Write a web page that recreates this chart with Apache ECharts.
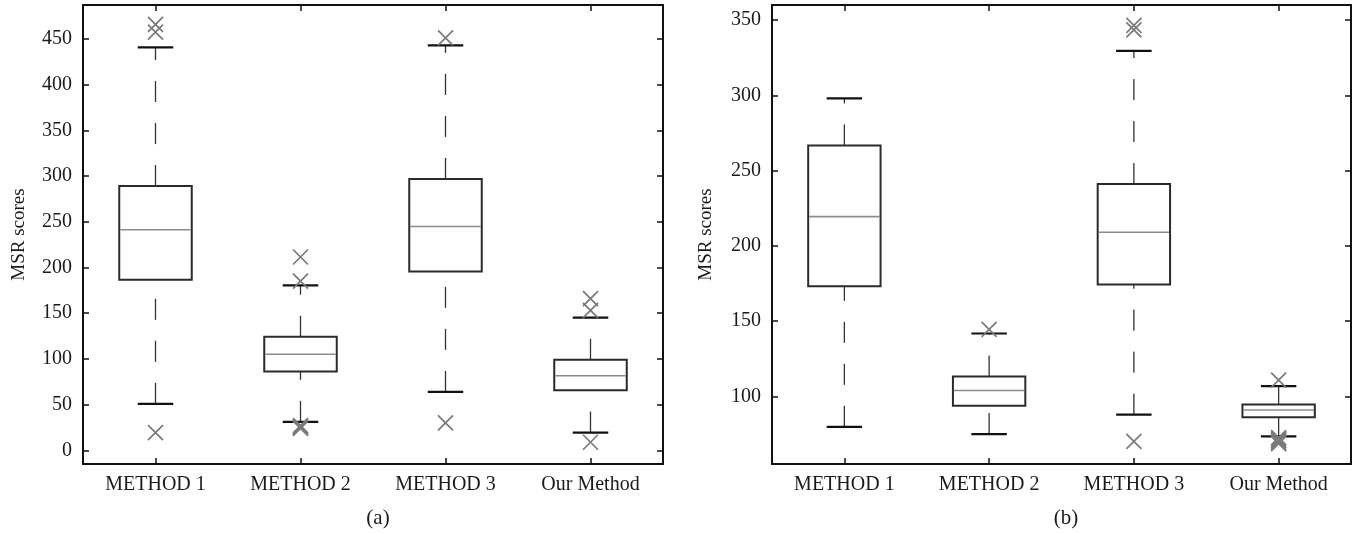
<!DOCTYPE html>
<html>
<head>
<meta charset="utf-8">
<script src="https://cdn.jsdelivr.net/npm/echarts@6/dist/echarts.min.js"></script>
<style>
html,body{margin:0;padding:0;background:#fff;}
#chart{width:1358px;height:533px;}
</style>
</head>
<body>
<div id="chart"></div>
<script>
// ---- data ----
const categories = ['METHOD 1', 'METHOD 2', 'METHOD 3', 'Our Method'];
// [lower whisker, Q1, median, Q3, upper whisker]
const boxA = [
  [50.8, 186.6, 241.2, 289.0, 440.7],
  [31.1, 86.2, 105.1, 124.2, 180.4],
  [63.9, 195.4, 244.7, 296.8, 442.8],
  [19.4, 65.7, 81.5, 99.0, 145.0]
];
// [category index, value]
const outliersA = [
  [0, 465.9], [0, 457.3], [0, 19.4],
  [1, 211.4], [1, 185.1], [1, 27], [1, 26], [1, 25], [1, 24],
  [2, 451], [2, 30],
  [3, 165.8], [3, 153], [3, 8.8]
];
const boxB = [
  [79.7, 173.1, 219.4, 266.7, 297.9],
  [74.9, 93.7, 103.8, 113.1, 141.7],
  [87.8, 174.2, 209.0, 241.0, 329.5],
  [73.3, 86.1, 90.9, 94.5, 106.7]
];
const outliersB = [
  [1, 144.4],
  [2, 346.5], [2, 343.5], [2, 70],
  [3, 110.8], [3, 72.5], [3, 71.5], [3, 70.5], [3, 69.5], [3, 68.5]
];
const yRangeA = [-15, 487];
const yRangeB = [55, 360];
const yName = 'MSR scores';
const subTitles = ['(a)', '(b)'];

// ---- styles ----
const FONT = "'Liberation Serif', 'Times New Roman', serif";
const TXT = '#1a1a1a';

function renderBox(params, api) {
  const xi = api.value(0);
  const low = api.coord([xi, api.value(1)]);
  const q1 = api.coord([xi, api.value(2)]);
  const med = api.coord([xi, api.value(3)]);
  const q3 = api.coord([xi, api.value(4)]);
  const high = api.coord([xi, api.value(5)]);
  const band = api.size([1, 0])[0];
  const bw = band * 0.5, cw = band * 0.245;
  const cx = low[0];
  const dash = {stroke: '#333', lineWidth: 1.3, lineDash: [21, 21], fill: null};
  const cap = {stroke: '#111', lineWidth: 2.2};
  return {
    type: 'group',
    children: [
      {type: 'line', shape: {x1: cx, y1: low[1], x2: cx, y2: q1[1]}, style: dash},
      {type: 'line', shape: {x1: cx, y1: q3[1], x2: cx, y2: high[1]}, style: dash},
      {type: 'line', shape: {x1: cx - cw / 2, y1: low[1], x2: cx + cw / 2, y2: low[1]}, style: cap},
      {type: 'line', shape: {x1: cx - cw / 2, y1: high[1], x2: cx + cw / 2, y2: high[1]}, style: cap},
      {type: 'rect', shape: {x: cx - bw / 2, y: q3[1], width: bw, height: q1[1] - q3[1]},
        style: {fill: 'none', stroke: '#2b2b2b', lineWidth: 2}},
      {type: 'line', shape: {x1: cx - bw / 2 + 1, y1: med[1], x2: cx + bw / 2 - 1, y2: med[1]},
        style: {stroke: '#8c8c8c', lineWidth: 1.6}}
    ]
  };
}

const grids = [
  {left: 83, top: 5, width: 580, height: 459},
  {left: 772, top: 5, width: 579, height: 459}
];

function xAxes(gi) {
  const common = {
    type: 'category', data: categories, gridIndex: gi, boundaryGap: true,
    axisLine: {show: true, onZero: false, lineStyle: {color: '#111', width: 2}},
    axisTick: {show: true, inside: true, alignWithLabel: true, length: 6, lineStyle: {color: '#111', width: 1.5}},
    splitLine: {show: false}
  };
  return [
    Object.assign({}, common, {position: 'bottom',
      axisLabel: {fontFamily: FONT, fontSize: 20, color: TXT, margin: 11}}),
    Object.assign({}, common, {position: 'top', axisLabel: {show: false}})
  ];
}
function yAxes(gi, range, splits, gap) {
  const common = {
    type: 'value', gridIndex: gi, min: range[0], max: range[1], splitNumber: splits,
    axisLine: {show: true, onZero: false, lineStyle: {color: '#111', width: 2}},
    axisTick: {show: true, inside: true, length: 6, lineStyle: {color: '#111', width: 1.5}},
    splitLine: {show: false}
  };
  return [
    Object.assign({}, common, {position: 'left',
      axisLabel: {fontFamily: FONT, fontSize: 20, color: TXT, margin: 11,
        showMinLabel: false, showMaxLabel: false,
        formatter: v => (Math.abs(v % 50) < 1e-6 ? String(v) : '')},
      name: yName, nameLocation: 'middle', nameGap: gap,
      nameTextStyle: {fontFamily: FONT, fontSize: 19, color: TXT}}),
    Object.assign({}, common, {position: 'right', axisLabel: {show: false}})
  ];
}

const xAxis = [].concat(xAxes(0), xAxes(1));
const yAxis = [].concat(yAxes(0, yRangeA, 10, 54), yAxes(1, yRangeB, 6, 56));

function boxSeries(arr, xi, yi) {
  return {
    type: 'custom', xAxisIndex: xi, yAxisIndex: yi,
    renderItem: renderBox,
    encode: {x: 0, y: [1, 2, 3, 4, 5]},
    data: arr.map((b, i) => [i].concat(b)),
    z: 2
  };
}
function outlierSeries(arr, xi, yi) {
  return {
    type: 'scatter', xAxisIndex: xi, yAxisIndex: yi,
    symbol: 'path://M0,0L10,10M0,10L10,0',
    symbolSize: 15,
    itemStyle: {color: 'none', borderColor: '#7a7a7a', borderWidth: 1.7, opacity: 1},
    data: arr,
    z: 3
  };
}

const option = {
  backgroundColor: '#fff',
  animation: false,
  title: [
    {text: subTitles[0], left: 373, top: 503, textAlign: 'center',
      textStyle: {fontFamily: FONT, fontSize: 21, fontWeight: 'normal', color: TXT}},
    {text: subTitles[1], left: 1061, top: 503, textAlign: 'center',
      textStyle: {fontFamily: FONT, fontSize: 21, fontWeight: 'normal', color: TXT}}
  ],
  grid: grids,
  xAxis: xAxis,
  yAxis: yAxis,
  series: [
    boxSeries(boxA, 0, 0),
    outlierSeries(outliersA, 0, 0),
    boxSeries(boxB, 2, 2),
    outlierSeries(outliersB, 2, 2)
  ]
};

const chart = echarts.init(document.getElementById('chart'), null, {renderer: 'canvas'});
chart.setOption(option);
</script>
</body>
</html>
